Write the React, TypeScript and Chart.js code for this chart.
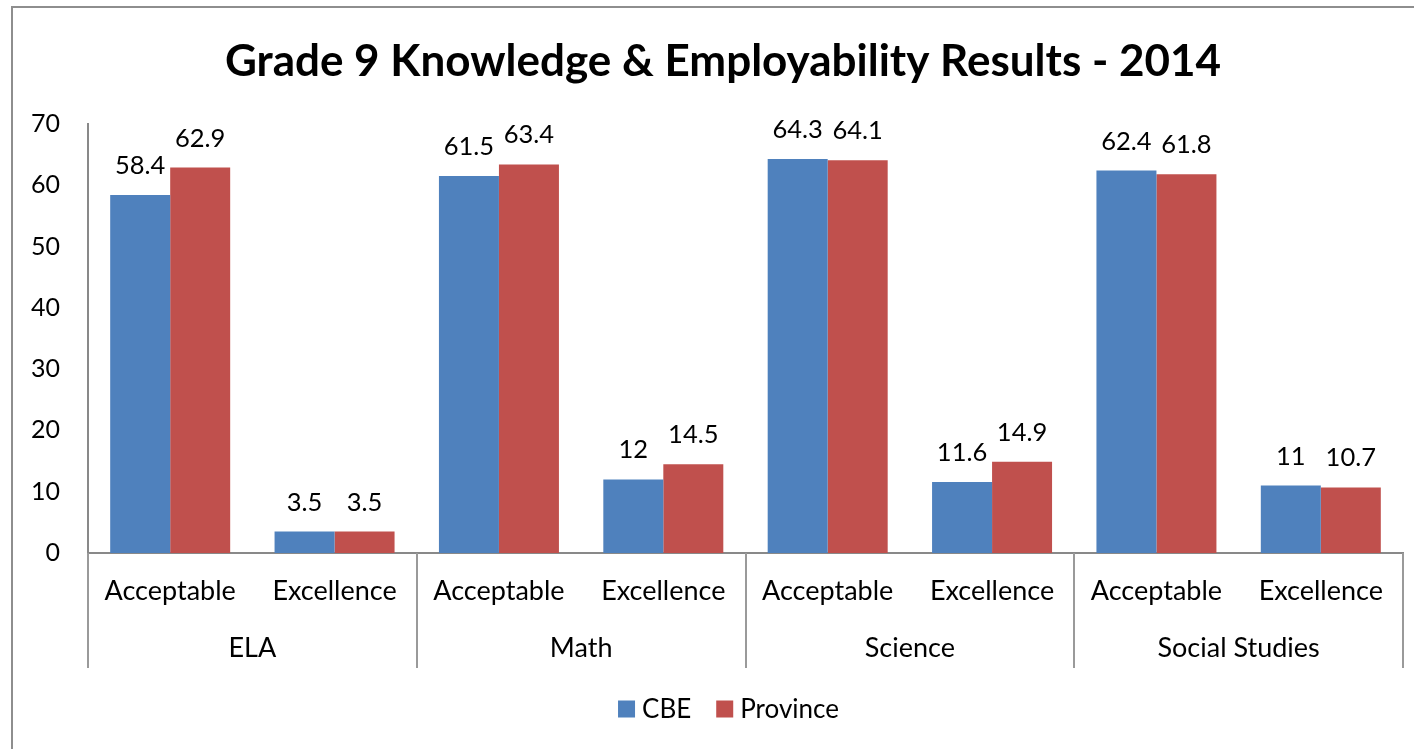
import React, { useEffect, useRef } from "react";
import { Chart, registerables } from "chart.js";

Chart.register(...registerables);

const TITLE = "Grade 9 Knowledge & Employability Results - 2014";
const categories = ["Acceptable", "Excellence", "Acceptable", "Excellence", "Acceptable", "Excellence", "Acceptable", "Excellence"];
const groups = ["ELA", "Math", "Science", "Social Studies"];
const seriesNames = ["CBE", "Province"];
const cbeValues = [58.4, 3.5, 61.5, 12, 64.3, 11.6, 62.4, 11];
const provinceValues = [62.9, 3.5, 63.4, 14.5, 64.1, 14.9, 61.8, 10.7];
const yMin = 0;
const yMax = 70;
const yStep = 10;

const BLUE = "#4F81BD";
const RED = "#C0504D";
const AXIS = "#898989";
const FONT = "Lato";

const customPlugin = {
  id: "customDraw",
  beforeDraw(chart: any) {
    const ctx = chart.ctx;
    ctx.save();
    ctx.fillStyle = "#ffffff";
    ctx.fillRect(0, 0, chart.width, chart.height);
    ctx.strokeStyle = "#8e8e8e";
    ctx.lineWidth = 2;
    ctx.beginPath();
    ctx.moveTo(12, chart.height);
    ctx.lineTo(12, 7);
    ctx.lineTo(chart.width, 7);
    ctx.stroke();
    ctx.fillStyle = "#000";
    ctx.font = `bold 44px ${FONT}`;
    ctx.textAlign = "center";
    ctx.textBaseline = "middle";
    ctx.fillText(TITLE, 723, 62);
    ctx.restore();
  },
  afterDatasetsDraw(chart: any) {
    const ctx = chart.ctx;
    ctx.save();
    ctx.fillStyle = "#000";
    ctx.font = `25.5px ${FONT}`;
    ctx.textAlign = "center";
    ctx.textBaseline = "alphabetic";
    chart.data.datasets.forEach((ds: any, di: number) => {
      const meta = chart.getDatasetMeta(di);
      meta.data.forEach((el: any, i: number) => {
        ctx.fillText(String(ds.data[i]), el.x, el.y - 21);
      });
    });
    ctx.restore();
  },
  afterDraw(chart: any) {
    const ctx = chart.ctx;
    const xs = chart.scales.x;
    const area = chart.chartArea;
    const w = xs.getPixelForValue(1) - xs.getPixelForValue(0);
    ctx.save();
    ctx.strokeStyle = "#9a9a9a";
    ctx.lineWidth = 2;
    for (let i = 0; i <= groups.length; i++) {
      const x = Math.round(xs.getPixelForValue(2 * i) - w / 2);
      ctx.beginPath();
      ctx.moveTo(x, area.bottom);
      ctx.lineTo(x, 668);
      ctx.stroke();
    }
    ctx.fillStyle = "#000";
    ctx.font = `27px ${FONT}`;
    ctx.textAlign = "center";
    ctx.textBaseline = "middle";
    groups.forEach((g, i) => {
      const cx = xs.getPixelForValue(2 * i) + w / 2;
      ctx.fillText(g, cx, 648);
    });
    // legend
    ctx.font = `26px ${FONT}`;
    const colors = [BLUE, RED];
    const box = 17;
    const gapBox = 7;
    const gapItem = 25;
    const widths = seriesNames.map((n) => ctx.measureText(n).width);
    let total = 0;
    widths.forEach((tw, i) => {
      total += box + gapBox + tw + (i < widths.length - 1 ? gapItem : 0);
    });
    let x = 728.5 - total / 2;
    const cy = 709;
    ctx.textAlign = "left";
    seriesNames.forEach((n, i) => {
      ctx.fillStyle = colors[i];
      ctx.fillRect(x, cy - box / 2, box, box);
      x += box + gapBox;
      ctx.fillStyle = "#000";
      ctx.fillText(n, x, cy + 1);
      x += widths[i] + gapItem;
    });
    ctx.restore();
  },
};

export default function App() {
  const ref = useRef<HTMLCanvasElement | null>(null);
  useEffect(() => {
    document.body.style.margin = "0";
    const chart = new Chart(ref.current as HTMLCanvasElement, {
      type: "bar",
      data: {
        labels: categories,
        datasets: [
          { label: seriesNames[0], data: cbeValues, backgroundColor: BLUE, categoryPercentage: 0.73, barPercentage: 1 },
          { label: seriesNames[1], data: provinceValues, backgroundColor: RED, categoryPercentage: 0.73, barPercentage: 1 },
        ],
      },
      options: {
        responsive: false,
        animation: false,
        layout: { padding: { top: 124, right: 11, bottom: 0, left: 0 } },
        plugins: {
          legend: { display: false },
          title: { display: false },
          tooltip: { enabled: false },
        },
        scales: {
          x: {
            grid: { display: false, drawTicks: false },
            border: { display: true, color: AXIS, width: 2 },
            ticks: { color: "#000", font: { family: FONT, size: 27 }, padding: 22, maxRotation: 0, autoSkip: false },
            afterFit: (s: any) => { s.height = 196; },
          },
          y: {
            min: yMin,
            max: yMax,
            grid: { display: false, drawTicks: false },
            border: { display: true, color: AXIS, width: 2 },
            ticks: { stepSize: yStep, color: "#000", font: { family: FONT, size: 25 }, padding: 28 },
            afterFit: (s: any) => { s.width = 88; },
          },
        },
      },
      plugins: [customPlugin],
    });
    return () => chart.destroy();
  }, []);
  return (
    <div style={{ position: "absolute", left: 0, top: 0, width: 1414, height: 749 }}>
      <canvas ref={ref} width={1414} height={749} style={{ display: "block" }} />
    </div>
  );
}
